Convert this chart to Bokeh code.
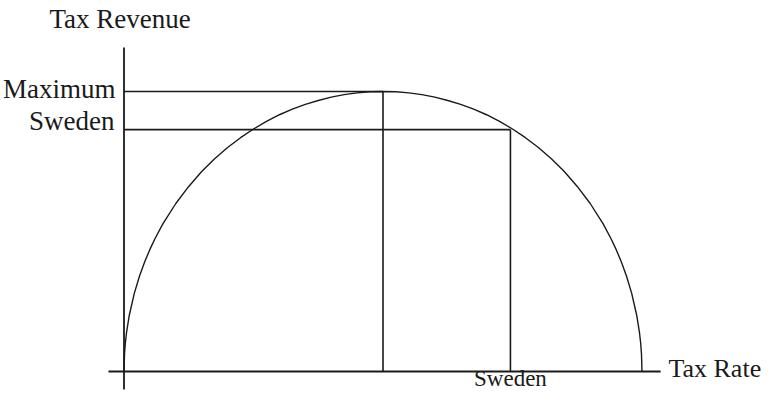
from bokeh.plotting import figure
from bokeh.models import Range1d, Label
from bokeh.embed import file_html
from bokeh.resources import INLINE

# ---- data ----
tax_rate = [0, 0.1, 0.25, 0.5, 1, 2, 3, 4, 5, 6, 7.5, 10, 12.5, 15, 17.5, 20, 22.5, 25,
            27.5, 30, 32.5, 35, 37.5, 40, 42.5, 45, 47.5, 50,
            52.5, 55, 57.5, 60, 62.5, 65, 67.5, 70, 72.5, 75, 77.5, 80, 82.5, 85,
            87.5, 90, 92.5, 94, 95, 96, 97, 98, 99, 99.5, 99.75, 99.9, 100]
tax_revenue = [0, 6.3, 10.0, 14.1, 19.9, 28.0, 34.1, 39.2, 43.6, 47.5, 52.7, 60.0, 66.1, 71.4, 76.0, 80.0, 83.5, 86.6,
               89.3, 91.7, 93.7, 95.4, 96.8, 98.0, 98.9, 99.5, 99.9, 100,
               99.9, 99.5, 98.9, 98.0, 96.8, 95.4, 93.7, 91.7, 89.3, 86.6, 83.5, 80.0, 76.0, 71.4,
               66.1, 60.0, 52.7, 47.5, 43.6, 39.2, 34.1, 28.0, 19.9, 14.1, 10.0, 6.3, 0]
max_rate = 50
max_revenue = 100
sweden_rate = 74.6
sweden_revenue = 86.4

axis_labels = ["Tax Revenue", "Tax Rate"]
level_labels = ["Maximum", "Sweden"]
rate_labels = ["Sweden"]

INK = "#1a1a1a"
FONT = "Liberation Serif"
FS = "27px"
DY = 3.2  # baseline correction (data units)

p = figure(width=765, height=393,
           x_range=Range1d(-23.842, 123.842), y_range=Range1d(-7.857, 132.5),
           x_axis_type=None, y_axis_type=None,
           min_border=0, toolbar_location=None, output_backend="svg")
p.grid.visible = False
p.outline_line_color = None
p.background_fill_color = "white"

# axes drawn as crossing lines
p.segment(x0=[0, -3.0], y0=[-6.43, 0], x1=[0, 103.6], y1=[115.7, 0],
          line_color=INK, line_width=1.8)

# guide lines for maximum and Sweden
p.segment(x0=[0, 0, max_rate, sweden_rate],
          y0=[max_revenue, sweden_revenue, 0, 0],
          x1=[max_rate, sweden_rate, max_rate, sweden_rate],
          y1=[max_revenue, sweden_revenue, max_revenue, sweden_revenue],
          line_color=INK, line_width=1.6)

# Laffer curve
p.line(tax_rate, tax_revenue, line_color=INK, line_width=1.4)

def lab(txt, x, y, align, size=FS):
    p.add_layout(Label(x=x, y=y + DY, text=txt, text_font=FONT, text_font_size=size,
                       text_color=INK, text_align=align, text_baseline="alphabetic"))

lab(axis_labels[0], -14.38, 122.6, "left")
lab(axis_labels[1], 105.1, -2.14, "left", "26px")
lab(level_labels[0], -1.64, max_revenue - 2.14, "right")
lab(level_labels[1], -1.83, sweden_revenue - 0.1, "right")
lab(rate_labels[0], sweden_rate, -5.7, "center", "23px")

open("out.html", "w").write(file_html(p, INLINE))
